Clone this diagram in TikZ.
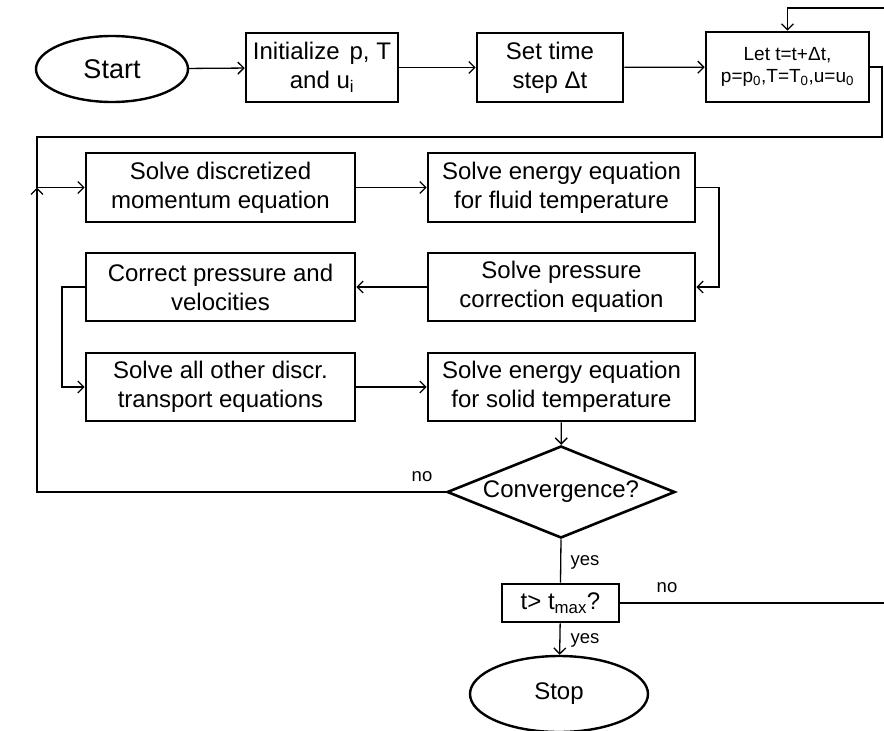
\documentclass[tikz,border=0pt]{standalone}
\usepackage{fontspec}
\setmainfont{Liberation Sans}
\usetikzlibrary{shapes.geometric,arrows.meta}
\begin{document}
\begin{tikzpicture}[x=1pt,y=-1pt,
  proc/.style={draw, line width=2.6pt, inner sep=0pt, align=center,
    font=\fontsize{24}{29}\selectfont},
  term/.style={draw, ellipse, line width=2.4pt, inner sep=0pt,
    font=\fontsize{24}{29}\selectfont},
  dec/.style={draw, diamond, aspect=2.48, line width=2.6pt, inner sep=0pt,
    font=\fontsize{24}{29}\selectfont},
  conn/.style={line width=1.3pt},
  arr/.style={conn, -{Straight Barb[length=6pt,width=12pt,line width=1.3pt]}},
  lab/.style={font=\fontsize{18.5}{20}\selectfont, inner sep=0pt}]
\useasboundingbox (0,0) rectangle (884,731);

\node[term, minimum width=152, minimum height=66, font=\fontsize{27}{30}\selectfont] (start) at (112,69) {Start};
\node[proc, minimum width=152, minimum height=69] (init) at (322,67.5)
  {Initialize\hspace{10pt}p, T\\and u\textsubscript{i}};
\node[proc, minimum width=146, minimum height=69] (dt) at (550,67.5)
  {Set time\\step Δt};
\node[proc, minimum width=163, minimum height=70, font=\fontsize{19}{22}\selectfont] (lett) at (787.5,67)
  {Let t=t+Δt,\\p=p\textsubscript{0},T=T\textsubscript{0},u=u\textsubscript{0}};

\node[proc, minimum width=269, minimum height=69] (mom) at (220.5,187.5)
  {Solve discretized\\momentum equation};
\node[proc, minimum width=267, minimum height=69] (efl) at (561.5,187.5)
  {Solve energy equation\\for fluid temperature};
\node[proc, minimum width=269, minimum height=68] (corr) at (220.5,287)
  {Correct pressure and\\velocities};
\node[proc, minimum width=267, minimum height=68] (pc) at (561.5,287)
  {Solve pressure\\correction equation};
\node[proc, minimum width=269, minimum height=68] (oth) at (220.5,387)
  {Solve all other discr.\\transport equations};
\node[proc, minimum width=267, minimum height=68] (esol) at (561.5,387)
  {Solve energy equation\\for solid temperature};

\node[dec, minimum width=228, minimum height=92] (conv) at (561,492) {Convergence?};
\node[proc, minimum width=117, minimum height=38] (tmax) at (560.5,603)
  {t>\ t\textsubscript{max}?};
\node[term, minimum width=178, minimum height=76] (stop) at (559,694) {Stop};

\coordinate (lr1) at (882,67);
\coordinate (lr2) at (882,137);
\coordinate (ll1) at (37,137);
\coordinate (ll2) at (37,187.5);
\coordinate (cl) at (37,492);
\coordinate (fr) at (719,187.5);
\coordinate (fr2) at (719,287);
\coordinate (cr) at (62,287);
\coordinate (cr2) at (62,387);
\coordinate (nr) at (884,603);
\coordinate (tr1) at (884,8);
\coordinate (tr2) at (787.5,8);

\draw[arr] (start) -- (init);
\draw[arr] (init) -- (dt);
\draw[arr] (dt) -- (lett);
\draw[conn] (lett.east) -- (lr1) -- (lr2) -- (ll1) -- (ll2);
\draw[arr] (ll2) -- (mom.west);
\draw[arr] (mom) -- (efl);
\draw[arr] (efl.east) -- (fr) -- (fr2) -- (pc.east);
\draw[arr] (pc) -- (corr);
\draw[arr] (corr.west) -- (cr) -- (cr2) -- (oth.west);
\draw[arr] (oth) -- (esol);
\draw[arr] (esol) -- (conv);
\draw[arr] (conv.west) -- (cl) -- (ll2);
\draw[conn] (conv.south) -- (tmax.north);
\draw[arr] (tmax) -- (stop);
\draw[conn] (tmax.east) -- (nr);
\draw[arr] (tr1) -- (tr2) -- (lett.north);

\node[lab] (no1) at (422,477) {no};
\node[lab] (yes1) at (585,562) {yes};
\node[lab] (no2) at (667,588) {no};
\node[lab] (yes2) at (585,640) {yes};
\end{tikzpicture}
\end{document}
